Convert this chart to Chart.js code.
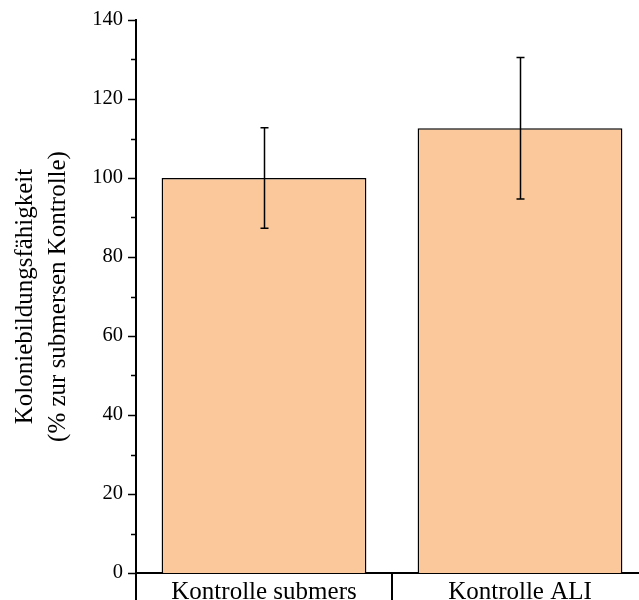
<!DOCTYPE html>
<html>
<head>
<meta charset="utf-8">
<script src="https://cdn.jsdelivr.net/npm/chart.js@4/dist/chart.umd.min.js"></script>
<style>
  html, body { margin: 0; padding: 0; overflow: hidden; background: #fff; }
  #wrap { width: 660px; height: 600px; }
</style>
</head>
<body>
<div id="wrap"><canvas id="c" width="660" height="600"></canvas></div>
<script>
// Colony-forming ability relative to the submerged control
const categories = ['Kontrolle submers', 'Kontrolle ALI'];
const meanValues = [100, 112.6];
const sdValues = [12.7, 17.9];
const yMin = 0;
const yMax = 140;
const yMajorStep = 20;
const yMinorStep = 10;
const yTitle = ['Koloniebildungsfähigkeit', '(% zur submersen Kontrolle)'];

const serif = "'Liberation Serif', 'Times New Roman', serif";

// Error bars, axis ticks (major + minor) and category separators
const decorations = {
  id: 'decorations',
  afterDatasetsDraw(chart) {
    const ctx = chart.ctx;
    const y = chart.scales.y;
    const x = chart.scales.x;
    const meta = chart.getDatasetMeta(0);
    ctx.save();
    ctx.strokeStyle = '#000';

    // error bars
    ctx.lineWidth = 1.5;
    meta.data.forEach((bar, i) => {
      const top = y.getPixelForValue(meanValues[i] + sdValues[i]);
      const bot = y.getPixelForValue(meanValues[i] - sdValues[i]);
      const cx = Math.round(bar.x) + 0.5;
      ctx.beginPath();
      ctx.moveTo(cx, top); ctx.lineTo(cx, bot);
      ctx.moveTo(cx - 4, top); ctx.lineTo(cx + 4, top);
      ctx.moveTo(cx - 4, bot); ctx.lineTo(cx + 4, bot);
      ctx.stroke();
    });

    // y ticks pointing outward
    ctx.lineWidth = 1.5;
    const ax = y.right;
    for (let v = yMin; v <= yMax; v += yMinorStep) {
      const py = Math.round(y.getPixelForValue(v)) + 0.5;
      const len = (v % yMajorStep === 0) ? 8 : 5;
      ctx.beginPath();
      ctx.moveTo(ax - len, py); ctx.lineTo(ax, py);
      ctx.stroke();
    }

    // category separators below the x axis
    ctx.lineWidth = 2;
    const bottom = x.top;
    const step = (x.right - x.left) / categories.length;
    for (let i = 0; i <= categories.length; i++) {
      const px = x.left + i * step;
      ctx.beginPath();
      ctx.moveTo(px, bottom); ctx.lineTo(px, 600);
      ctx.stroke();
    }
    ctx.restore();
  }
};

new Chart(document.getElementById('c'), {
  type: 'bar',
  data: {
    labels: categories,
    datasets: [{
      data: meanValues,
      backgroundColor: 'rgb(250, 200, 155)',
      borderColor: '#000',
      borderWidth: 1.5,
      borderSkipped: 'start',
      barPercentage: 0.8,
      categoryPercentage: 1.0
    }]
  },
  options: {
    responsive: false,
    animation: false,
    layout: { padding: { top: 20, right: 12, left: 0, bottom: 0 } },
    plugins: {
      legend: { display: false },
      tooltip: { enabled: false }
    },
    scales: {
      x: {
        grid: { display: false, drawTicks: false },
        border: { display: true, color: '#000', width: 2 },
        ticks: {
          color: '#000',
          padding: 4,
          font: { family: serif, size: 25 },
          maxRotation: 0
        },
        afterFit(scale) { scale.height = 27; }
      },
      y: {
        min: yMin,
        max: yMax,
        grid: { display: false, drawTicks: false },
        border: { display: true, color: '#000', width: 2 },
        ticks: {
          stepSize: yMajorStep,
          color: '#000',
          padding: 13,
          font: { family: serif, size: 20.5 }
        },
        title: {
          display: true,
          text: yTitle,
          color: '#000',
          font: { family: serif, size: 25, lineHeight: 1.32 },
          padding: { top: 9, bottom: 0 }
        },
        afterFit(scale) {
          scale.width = 136;
          scale.paddingTop = 0;
          scale.paddingBottom = 0;
        }
      }
    }
  },
  plugins: [decorations]
});
</script>
</body>
</html>
